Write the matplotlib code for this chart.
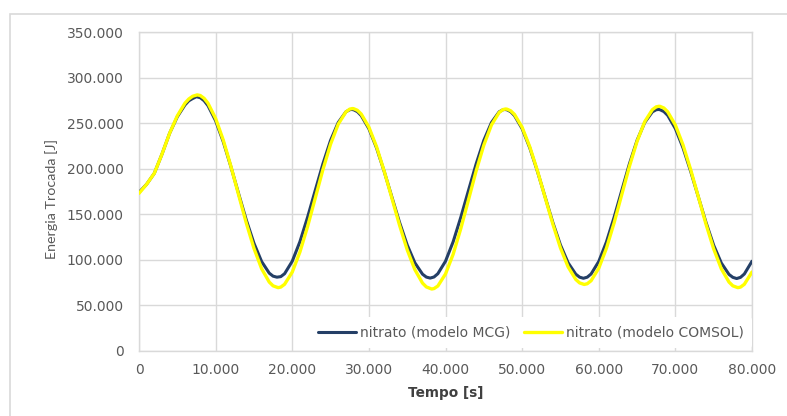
import matplotlib
matplotlib.use("Agg")
import matplotlib.pyplot as plt
from matplotlib.patches import Rectangle
from matplotlib.ticker import FuncFormatter

plt.rcParams['font.family'] = ['DejaVu Sans']

# nitrato (modelo MCG): time [s] and exchanged energy [J]
tempo_mcg = [
    0, 1000, 2000, 3000, 4000, 5000, 6000, 6500, 7000, 7500, 8000, 8500, 9000,
    10000, 11000, 12000, 13000, 14000, 15000, 16000, 17000, 17500, 18000, 18500, 19000,
    20000, 21000, 22000, 23000, 24000, 25000, 26000, 27000, 27500, 27750, 28000, 28500, 29000,
    30000, 31000, 32000, 33000, 34000, 35000, 36000, 37000, 37500, 38000, 38500, 39000,
    40000, 41000, 42000, 43000, 44000, 45000, 46000, 47000, 47500, 47750, 48000, 48500, 49000,
    50000, 51000, 52000, 53000, 54000, 55000, 56000, 57000, 57500, 58000, 58500, 59000,
    60000, 61000, 62000, 63000, 64000, 65000, 66000, 67000, 67500, 67800, 68000, 68500, 69000,
    70000, 71000, 72000, 73000, 74000, 75000, 76000, 77000, 77500, 78000, 78500, 79000,
    80000,
]
energia_mcg = [
    174000, 183000, 195000, 216000, 239000, 257000, 270000, 274500, 277000, 279000, 277900, 274600, 269200,
    252600, 229500, 202000, 172600, 143800, 118300, 98200, 85400, 82100, 81000, 81600, 84800,
    98500, 119900, 146800, 176200, 205300, 231100, 250700, 262400, 264700, 265000, 264700, 262600, 258300,
    243900, 222800, 197000, 169000, 141200, 116400, 96800, 84300, 81100, 80000, 81200, 84800,
    98500, 119900, 146800, 176200, 205300, 231100, 250700, 262400, 264700, 265000, 264700, 262600, 258300,
    243900, 222800, 197000, 169000, 141200, 116400, 96800, 84300, 81000, 79800, 81000, 84500,
    98200, 119600, 146600, 176000, 205300, 231100, 250700, 262400, 264700, 265000, 264700, 262700, 258500,
    244000, 222800, 197000, 169000, 141000, 116000, 96500, 84000, 80800, 79500, 80800, 84500,
    98500,
]

# nitrato (modelo COMSOL): time [s] and exchanged energy [J]
tempo_comsol = [
    0, 1000, 2000, 3000, 4000, 5000, 6000, 6500, 7000, 7600, 8000, 8500, 9000,
    10000, 11000, 12000, 13000, 14000, 15000, 16000, 17000, 17500, 18150, 18500, 19000,
    20000, 21000, 22000, 23000, 24000, 25000, 26000, 27000, 27500, 27850, 28000, 28500, 29000,
    30000, 31000, 32000, 33000, 34000, 35000, 36000, 37000, 37500, 38200, 38500, 39000,
    40000, 41000, 42000, 43000, 44000, 45000, 46000, 47000, 47500, 47850, 48000, 48500, 49000,
    50000, 51000, 52000, 53000, 54000, 55000, 56000, 57000, 57500, 58100, 58500, 59000,
    60000, 61000, 62000, 63000, 64000, 65000, 66000, 67000, 67500, 67850, 68000, 68500, 69000,
    70000, 71000, 72000, 73000, 74000, 75000, 76000, 77000, 77500, 78150, 78500, 79000,
    80000,
]
energia_comsol = [
    173000, 183000, 195000, 216000, 239000, 258000, 272000, 276500, 279500, 281000, 280300, 277200, 271900,
    255100, 231300, 202500, 171300, 140500, 112700, 90300, 75600, 71500, 69500, 70100, 73200,
    86600, 108600, 136500, 167700, 199000, 226900, 248900, 262300, 265400, 266000, 265900, 264100, 260000,
    245600, 224100, 197300, 167800, 138100, 111100, 89300, 74500, 70300, 68000, 68500, 71300,
    84500, 106200, 134400, 165900, 197600, 225900, 248100, 261700, 264900, 265500, 265400, 263600, 259600,
    245400, 224000, 197600, 168500, 139500, 113200, 92300, 78500, 74700, 73000, 73800, 77100,
    90800, 112700, 140500, 171500, 202500, 230000, 251600, 264800, 267900, 268500, 268400, 266600, 262400,
    247900, 226000, 198900, 169000, 139100, 112000, 90100, 75600, 71500, 69500, 70100, 73200,
    86700,
]

series_labels = ["nitrato (modelo MCG)", "nitrato (modelo COMSOL)"]
x_label = "Tempo [s]"
y_label = "Energia Trocada [J]"

W, H = 787, 416
fig = plt.figure(figsize=(W / 100, H / 100), dpi=100)

# outer chart border (cropped on the right/bottom)
fig.patches.append(Rectangle((10 / W, -0.1), 1.2, (H - 14) / H + 0.1,
                             transform=fig.transFigure, fill=False,
                             edgecolor='#D9D9D9', linewidth=1.2, zorder=0))

ax = fig.add_axes([139 / W, (H - 351) / H, (752 - 139) / W, (351 - 32) / H])

ax.plot(tempo_mcg, energia_mcg, color='#243F66', linewidth=2.2, label=series_labels[0],
        solid_capstyle='round', solid_joinstyle='round', zorder=3)
ax.plot(tempo_comsol, energia_comsol, color='#FFFF00', linewidth=2.4, label=series_labels[1],
        solid_capstyle='round', solid_joinstyle='round', zorder=4)

ax.set_xlim(0, 80000)
ax.set_ylim(0, 350000)
ax.set_xticks(range(0, 80001, 10000))
ax.set_yticks(range(0, 350001, 50000))

fmt = FuncFormatter(lambda v, p: "0" if v == 0 else f"{int(v):,}".replace(",", "."))
ax.xaxis.set_major_formatter(fmt)
ax.yaxis.set_major_formatter(fmt)

ax.grid(True, color='#D9D9D9', linewidth=1.0)
ax.set_axisbelow(True)
for s in ax.spines.values():
    s.set_color('#D9D9D9')
    s.set_linewidth(1.0)

ax.tick_params(axis='both', length=0, labelsize=10, labelcolor='#595959')
ax.tick_params(axis='y', pad=11)
ax.tick_params(axis='x', pad=9)

ax.set_xlabel(x_label, fontsize=9.8, fontweight='bold', color='#404040')
ax.xaxis.set_label_coords(0.5, (351 - 393) / 319)
ax.xaxis.label.set_va('center')
ax.set_ylabel(y_label, fontsize=10.3, color='#595959', family=['Lato', 'DejaVu Sans'])
ax.yaxis.set_label_coords((52 - 139) / 613, 0.476)
ax.yaxis.label.set_va('center')

leg = ax.legend(loc='lower right', bbox_to_anchor=(1.0, 0.01), ncol=2, frameon=True,
                fontsize=10, handlelength=2.7, handletextpad=0.3, columnspacing=1.0,
                borderpad=0.6, borderaxespad=0.0)
leg.get_frame().set_facecolor('white')
leg.get_frame().set_edgecolor('none')
leg.get_frame().set_alpha(1.0)
for t in leg.get_texts():
    t.set_color('#595959')

fig.savefig("out.png", dpi=100)
